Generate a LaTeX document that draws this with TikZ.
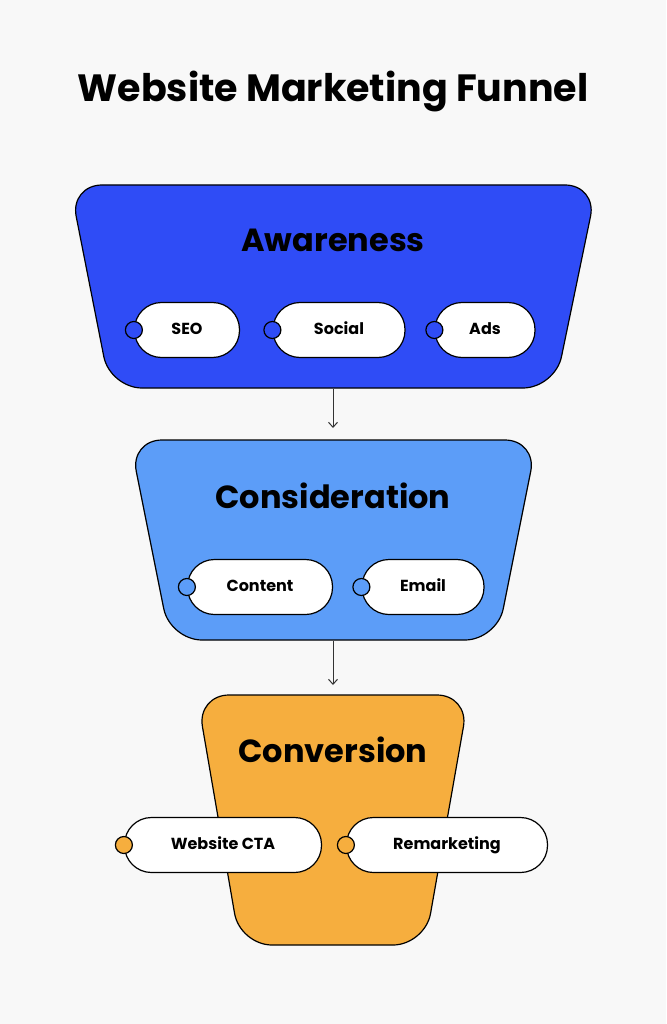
\documentclass[tikz,border=0pt]{standalone}
\usepackage{fontspec}
\setmainfont{Poppins}
\usetikzlibrary{arrows.meta}
\definecolor{bgcol}{HTML}{F8F8F8}
\definecolor{awarecol}{HTML}{2F4CF6}
\definecolor{considcol}{HTML}{5C9DF8}
\definecolor{convcol}{HTML}{F6AE3E}
\tikzset{
  stage/.style={draw=black, line width=1.2pt, rounded corners=32pt},
  stagetitle/.style={font=\fontsize{32}{36}\selectfont\bfseries},
  pill/.style={draw=black, line width=1.2pt, fill=white, rounded corners=27pt,
    minimum height=55pt, text height=12pt, text depth=3pt,
    font=\fontsize{16}{18}\selectfont\bfseries},
  dot/.style={circle, draw=black, line width=1.2pt, minimum size=17pt, inner sep=0pt},
  flow/.style={draw=black!80, line width=1pt, -{Straight Barb[length=5pt,width=9pt]}}
}
\begin{document}
\begin{tikzpicture}[x=1pt,y=-1pt]
% background
\fill[bgcol] (0,0) rectangle (666,1024);
\useasboundingbox (0,0) rectangle (666,1024);
\node[font=\fontsize{38}{44}\selectfont\bfseries] (title) at (333,92) {Website Marketing Funnel};
% the awareness stage
\draw[stage, fill=awarecol] (70,185) -- (597,185) -- (555,388) -- (110,388) -- cycle;
\node[stagetitle] (aware) at (333,240) {Awareness};
\node[pill, minimum width=105pt] (seo) at (187,330) {SEO};
\node[pill, minimum width=132pt] (social) at (339,330) {Social};
\node[pill, minimum width=100pt] (ads) at (485,330) {Ads};
\foreach \p in {seo,social,ads}
  \node[dot, fill=awarecol] at (\p.west) {};
% the consideration stage
\draw[stage, fill=considcol] (130,440) -- (537,440) -- (497,640) -- (170,640) -- cycle;
\node[stagetitle] (consid) at (333,496) {Consideration};
\node[pill, minimum width=145pt] (content) at (260,587) {Content};
\node[pill, minimum width=122pt] (email) at (423,587) {Email};
\foreach \p in {content,email}
  \node[dot, fill=considcol] at (\p.west) {};
% the conversion stage
\draw[stage, fill=convcol] (197,695) -- (469,695) -- (425,945) -- (240,945) -- cycle;
\node[stagetitle] (conv) at (333,750) {Conversion};
\node[pill, minimum width=197pt] (cta) at (223,845) {Website CTA};
\node[pill, minimum width=201pt] (remark) at (447,845) {Remarketing};
\foreach \p in {cta,remark}
  \node[dot, fill=convcol] at (\p.west) {};
% arrows between stages
\coordinate (a1) at (333,389);
\coordinate (a2) at (333,428);
\coordinate (b1) at (333,641);
\coordinate (b2) at (333,685);
\draw[flow] (a1) -- (a2);
\draw[flow] (b1) -- (b2);
\end{tikzpicture}
\end{document}
